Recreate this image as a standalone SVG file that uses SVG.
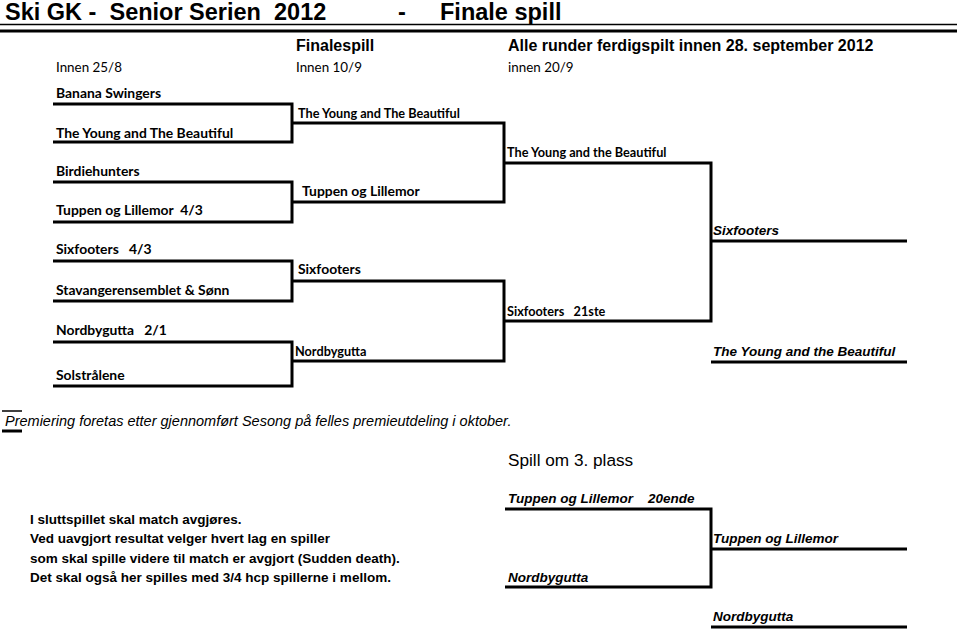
<svg xmlns="http://www.w3.org/2000/svg" width="960" height="630" viewBox="0 0 960 630">
<style>
.t{font-family:"Liberation Sans",Arial,sans-serif;font-weight:bold;font-size:23.5px;fill:#000}
.h{font-family:"Liberation Sans",Arial,sans-serif;font-weight:bold;font-size:16px;fill:#000}
.d{font-family:Lato,"Open Sans",sans-serif;font-size:13.4px;fill:#000}
.c{font-family:Lato,"Open Sans",sans-serif;font-weight:bold;font-size:13.9px;fill:#000}
.c2{font-family:Lato,"Open Sans",sans-serif;font-weight:bold;font-size:12.7px;fill:#000}
.i{font-family:"Liberation Sans",Arial,sans-serif;font-weight:bold;font-style:italic;font-size:13.5px;fill:#000}
.n{font-family:"Liberation Sans",Arial,sans-serif;font-style:italic;font-size:14.5px;fill:#000}
.b{font-family:"Liberation Sans",Arial,sans-serif;font-weight:bold;font-size:13.5px;fill:#000}
.s{font-family:"Liberation Sans",Arial,sans-serif;font-size:17.2px;fill:#000}
.ln{fill:none;stroke:#000;stroke-width:3;stroke-linejoin:miter}
</style>
<rect width="960" height="630" fill="#fff"/>
<g id="header">
<text class="t" x="5" y="20" xml:space="preserve">Ski GK -  Senior Serien  2012</text>
<text class="t" x="398" y="20">-</text>
<text class="t" x="440" y="20">Finale spill</text>
<line x1="0" y1="24.5" x2="957" y2="24.5" stroke="#000" stroke-width="1.5"/>
<line x1="0" y1="31" x2="957" y2="31" stroke="#000" stroke-width="3"/>
<text class="h" x="296" y="51">Finalespill</text>
<text class="h" x="508" y="51">Alle runder ferdigspilt innen 28. september 2012</text>
<text class="d" x="56" y="72">Innen 25/8</text>
<text class="d" x="296" y="72">Innen 10/9</text>
<text class="d" x="508" y="72">innen 20/9</text>
</g>
<g id="connectors">
<path class="ln" d="M53 104H292V142H53"/>
<path class="ln" d="M53 182H292V222H53"/>
<path class="ln" d="M53 261H292V301H53"/>
<path class="ln" d="M53 342H292V386H53"/>
<path class="ln" d="M292 123H504V202H292"/>
<path class="ln" d="M292 281H504V361H292"/>
<path class="ln" d="M504 163H711V321H504"/>
<path class="ln" d="M711 241H907"/>
<path class="ln" d="M711 362H907"/>
<path class="ln" d="M505 509H711V587H505"/>
<path class="ln" d="M711 549H907"/>
<path class="ln" d="M711 627H907"/>
<line x1="2" y1="411" x2="22" y2="411" stroke="#000" stroke-width="1.5"/>
<line x1="2" y1="431" x2="22" y2="431" stroke="#000" stroke-width="3"/>
</g>
<g id="round1">
<text class="c" x="56" y="98">Banana Swingers</text>
<text class="c" x="56" y="138">The Young and The Beautiful</text>
<text class="c" x="56" y="176">Birdiehunters</text>
<text class="c" x="56" y="215" xml:space="preserve">Tuppen og Lillemor  4/3</text>
<text class="c" x="56" y="254" xml:space="preserve">Sixfooters   4/3</text>
<text class="c" x="56" y="295">Stavangerensemblet &amp; Sønn</text>
<text class="c" x="56" y="335" xml:space="preserve">Nordbygutta   2/1</text>
<text class="c" x="56" y="380">Solstrålene</text>
</g>
<g id="round2">
<text class="c2" x="298" y="118">The Young and The Beautiful</text>
<text class="c" x="302" y="196">Tuppen og Lillemor</text>
<text class="c" x="298" y="274">Sixfooters</text>
<text class="c2" x="295" y="356">Nordbygutta</text>
</g>
<g id="round3">
<text class="c2" x="507" y="157">The Young and the Beautiful</text>
<text class="c2" x="507" y="316" xml:space="preserve">Sixfooters   21ste</text>
</g>
<g id="final">
<text class="i" x="713" y="235">Sixfooters</text>
<text class="i" x="713" y="356">The Young and the Beautiful</text>
</g>
<g id="notes">
<text class="n" x="5" y="426">Premiering foretas etter gjennomført Sesong på felles premieutdeling i oktober.</text>
<text class="s" x="508" y="466">Spill om 3. plass</text>
<text class="b" x="30" y="524">I sluttspillet skal match avgjøres.</text>
<text class="b" x="30" y="543">Ved uavgjort resultat velger hvert lag en spiller</text>
<text class="b" x="30" y="563">som skal spille videre til match er avgjort (Sudden death).</text>
<text class="b" x="30" y="582">Det skal også her spilles med 3/4 hcp spillerne i mellom.</text>
</g>
<g id="bronze">
<text class="i" x="508" y="503">Tuppen og Lillemor</text>
<text class="i" x="648" y="503">20ende</text>
<text class="i" x="508" y="582">Nordbygutta</text>
<text class="i" x="713" y="543">Tuppen og Lillemor</text>
<text class="i" x="713" y="621">Nordbygutta</text>
</g>
</svg>
